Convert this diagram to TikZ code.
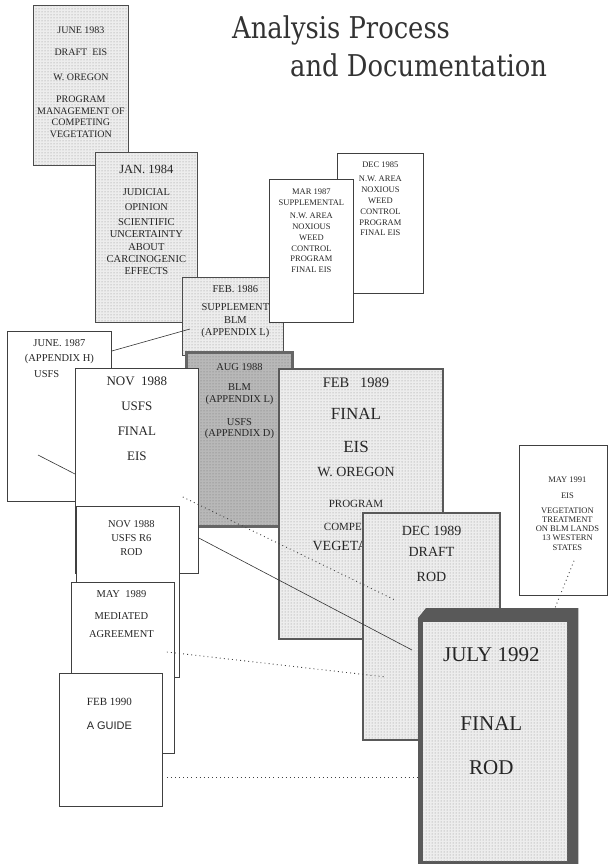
\documentclass[tikz,border=0pt]{standalone}
\usepackage{graphicx}
\usepackage{fontspec}
\setmainfont{Liberation Serif}
\newfontfamily\guidefont{Liberation Sans}
\newfontfamily\titlefont{DejaVu Serif}
\usetikzlibrary{positioning,patterns}

\newcommand{\docsize}[2]{\fontsize{#1}{#2}\selectfont}

\tikzset{
  docbox/.style={draw=black!75, line width=0.8pt, fill=white, anchor=north west, inner sep=0pt},
  dotbox/.style={docbox, draw=black!70, preaction={fill=black!7}, pattern=dots, pattern color=black!45},
  heavybox/.style={dotbox, line width=2pt, draw=black!65},
  darkbox/.style={docbox, line width=3pt, draw=black!60, preaction={fill=black!28}, pattern=dots, pattern color=black!55},
  doctext/.style={anchor=north, inner sep=0pt, align=center, text=black!85},
  link/.style={black!80, line width=0.6pt},
  dotlink/.style={black!75, line width=0.9pt, dash pattern=on 0.9pt off 3.2pt},
}

\begin{document}
\begin{tikzpicture}[x=1pt, y=-1pt]
\useasboundingbox (0,0) rectangle (608,864);

% title
\node[anchor=base west, inner sep=0pt, text=black!80] (title1) at (232,39)
  {\titlefont\docsize{30}{30}\scalebox{0.86}[1]{Analysis Process}};
\node[anchor=base west, inner sep=0pt, text=black!80] (title2) at (290,77)
  {\titlefont\docsize{30}{30}\scalebox{0.86}[1]{and Documentation}};

% back row of documents
\node[dotbox, minimum width=95, minimum height=160] (jun83) at (33,5) {};
\node[doctext, below=21.6pt of jun83.north, font=\docsize{10}{11.7}] (jun83t)
  {JUNE 1983\\[10.3pt] DRAFT\ \ EIS\\[13.3pt] W. OREGON\\[10.3pt] PROGRAM\\ MANAGEMENT OF\\ COMPETING\\ VEGETATION};

\node[dotbox, minimum width=102, minimum height=170] (jan84) at (95,152) {};
\node[doctext, below=12.7pt of jan84.north, font=\docsize{10.5}{12.3}] (jan84t)
  {{\docsize{12.5}{12.3}JAN. 1984}\\[10.1pt] JUDICIAL\\[2.7pt] OPINION\\[2.7pt] SCIENTIFIC\\ UNCERTAINTY\\ ABOUT\\ CARCINOGENIC\\ EFFECTS};

\node[docbox, minimum width=86, minimum height=140] (dec85) at (337,153) {};
\node[doctext, below=9.1pt of dec85.north, font=\docsize{8.5}{10.8}] (dec85t)
  {DEC 1985\\[3.2pt] N.W. AREA\\ NOXIOUS\\ WEED\\ CONTROL\\ PROGRAM\\ FINAL EIS};

\node[dotbox, minimum width=101, minimum height=78] (feb86) at (182,277) {};
\node[doctext, below=8.5pt of feb86.north, xshift=2.5pt, font=\docsize{10.5}{12.5}] (feb86t)
  {FEB. 1986\\[5.5pt] SUPPLEMENT\\ BLM\\ (APPENDIX L)};

\node[docbox, minimum width=84, minimum height=143] (mar87) at (269,179) {};
\node[doctext, below=10.1pt of mar87.north, font=\docsize{8.5}{10.8}] (mar87t)
  {MAR 1987\\ SUPPLEMENTAL\\[2.2pt] N.W. AREA\\ NOXIOUS\\ WEED\\ CONTROL\\ PROGRAM\\ FINAL EIS};

\node[darkbox, minimum width=106, minimum height=174] (aug88) at (185,351) {};
\node[doctext, below=12.5pt of aug88.north, font=\docsize{10.5}{11.5}] (aug88t)
  {AUG 1988\\[8.5pt] BLM\\ (APPENDIX L)\\[11.5pt] USFS\\ (APPENDIX D)};

% left column
\node[docbox, minimum width=104, minimum height=170] (jun87) at (7,331) {};
\node[doctext, below=8.5pt of jun87.north, font=\docsize{10.5}{15}] (jun87t)
  {JUNE. 1987\\ (APPENDIX H)};
\node[doctext, anchor=west, font=\docsize{10.5}{15}] (jun87u) at (34,374) {USFS};

\node[docbox, minimum width=123, minimum height=205] (nov88) at (75,368) {};
\node[doctext, below=8.7pt of nov88.north, font=\docsize{13}{25}] (nov88t)
  {NOV\ \ 1988\\ USFS\\ FINAL\\ EIS};

% final eis
\node[heavybox, minimum width=164, minimum height=270] (feb89) at (278,368) {};
\node[doctext, below=10pt of feb89.north, xshift=-5pt, font=\docsize{11}{12}] (feb89t)
  {{\docsize{14.5}{12}FEB\ \ \ 1989}\\[19.8pt] {\docsize{17}{12}FINAL}\\[21pt] {\docsize{17}{12}EIS}\\[12pt]
   {\docsize{14}{12}W. OREGON}\\[19pt] PROGRAM\\[11pt] COMPETING\\[8pt] {\docsize{14}{12}VEGETATION}};

\node[docbox, minimum width=103, minimum height=171] (r6rod) at (76,506) {};
\node[doctext, below=14.5pt of r6rod.north, xshift=3.5pt, font=\docsize{10.5}{14}] (r6rodt)
  {NOV 1988\\ USFS R6\\ ROD};

\node[docbox, minimum width=103, minimum height=171] (may89) at (71,582) {};
\node[doctext, below=8.5pt of may89.north, xshift=-1.5pt, font=\docsize{10.5}{18}] (may89t)
  {MAY\ \ 1989\\[4pt] MEDIATED\\ AGREEMENT};

\node[docbox, minimum width=103, minimum height=133] (feb90) at (59,673) {};
\node[doctext, below=25.4pt of feb90.north, xshift=-1.5pt, font=\docsize{11}{24}] (feb90t)
  {FEB 1990\\ {\guidefont A GUIDE}};

\node[heavybox, minimum width=137, minimum height=227] (dec89) at (362,512) {};
\node[doctext, below=14.3pt of dec89.north, font=\docsize{14}{21}] (dec89t)
  {DEC 1989\\ DRAFT\\[4pt] ROD};

\node[docbox, minimum width=88, minimum height=150] (may91) at (519,445) {};
\node[doctext, below=31.2pt of may91.north, xshift=4pt, font=\docsize{8.5}{9.3}] (may91t)
  {MAY 1991\\[6.7pt] EIS\\[5.7pt] VEGETATION\\ TREATMENT\\ ON BLM LANDS\\ 13 WESTERN\\ STATES};

% july 1992, with its shadow
\node[anchor=north west, inner sep=0pt, minimum width=160, minimum height=256] (jul92) at (418,608) {};
\fill[black!65] ([yshift=-10pt]jul92.north west) -- ([xshift=8pt]jul92.north west) -- (jul92.north east)
  -- (jul92.south east) -- (jul92.south west) -- cycle;
\node[dotbox, draw=none, minimum width=144, minimum height=239] (jul92f) at (423,622) {};
\node[doctext, below=25pt of jul92f.north, xshift=-4pt, font=\docsize{21}{44}] (jul92t)
  {JULY 1992\\[25pt] FINAL\\ ROD};

% links
\draw[link] ([yshift=-20pt]jun87.north east) -- ([xshift=8pt,yshift=-52pt]feb86.north west);
\draw[link] ([xshift=31pt,yshift=-124pt]jun87.north west) -- ([yshift=-106pt]nov88.north west);
\draw[link] ([yshift=-170pt]nov88.north east) -- ([xshift=-6pt,yshift=-42pt]jul92.north west);
\draw[dotlink] ([xshift=-16pt,yshift=-129pt]nov88.north east) -- ([xshift=33pt,yshift=-88pt]dec89.north west);
\draw[dotlink] ([xshift=-8pt,yshift=-70pt]may89.north east) -- ([xshift=24pt,yshift=-165pt]dec89.north west);
\draw[dotlink] ([xshift=4pt,yshift=-104pt]feb90.north east) -- ([yshift=-169pt]jul92.north west);
\draw[dotlink] ([xshift=55pt,yshift=35pt]may91.south west) -- ([xshift=137pt]jul92.north west);

\end{tikzpicture}
\end{document}
